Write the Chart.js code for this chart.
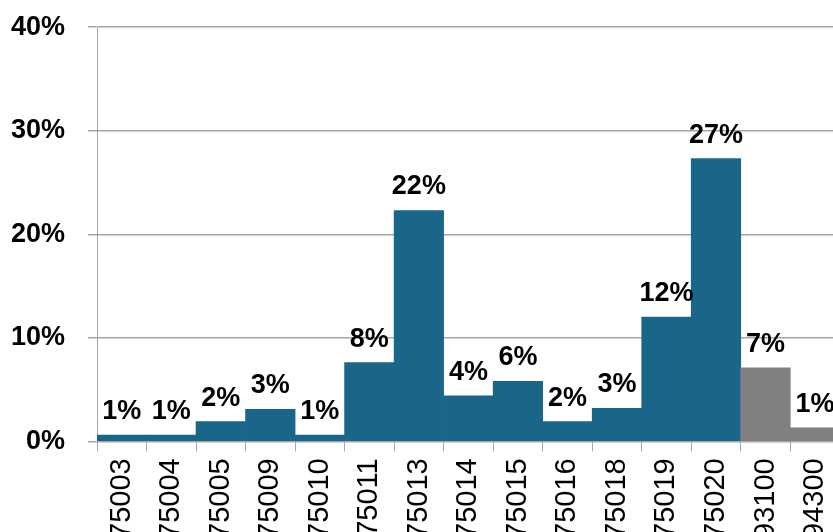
<!DOCTYPE html>
<html>
<head>
<meta charset="utf-8">
<script src="https://cdn.jsdelivr.net/npm/chart.js@4.4.1/dist/chart.umd.min.js"></script>
<style>
    html, body { margin: 0; padding: 0; background: #ffffff; overflow: hidden; }
    #wrap { position: relative; width: 857px; height: 560px; margin-top: -12px; }
</style>
</head>
<body>
<div id="wrap"><canvas id="chart-cp"></canvas></div>
<script>
    // Codici postali e quota (%)
    const categories = ['75003', '75004', '75005', '75009', '75010', '75011', '75013', '75014',
        '75015', '75016', '75018', '75019', '75020', '93100', '94300'];
    const shares = [0.6, 0.6, 1.9, 3.1, 0.6, 7.6, 22.3, 4.4, 5.8, 1.9, 3.2, 12.0, 27.3, 7.1, 1.3];
    const barColors = ['#1a6689', '#1a6689', '#1a6689', '#1a6689', '#1a6689', '#1a6689', '#1a6689',
        '#1a6689', '#1a6689', '#1a6689', '#1a6689', '#1a6689', '#1a6689', '#808080', '#808080'];
    const yTicks = [0, 10, 20, 30, 40];

    const FONT = '"Liberation Sans", Arial, sans-serif';
    const gridGrey = '#a6a6a6';

    const valueLabels = {
        id: 'valueLabels',
        afterDatasetsDraw: function (chart) {
            const ctx = chart.ctx;
            const meta = chart.getDatasetMeta(0);
            ctx.save();
            ctx.font = 'bold 27px ' + FONT;
            ctx.fillStyle = '#000000';
            ctx.textAlign = 'center';
            ctx.textBaseline = 'alphabetic';
            meta.data.forEach(function (bar, i) {
                ctx.fillText(Math.round(shares[i]) + '%', bar.x, bar.y - 16);
            });
            ctx.restore();
        }
    };

    new Chart(document.getElementById('chart-cp').getContext('2d'), {
        type: 'bar',
        data: {
            labels: categories,
            datasets: [{
                data: shares,
                backgroundColor: barColors,
                borderWidth: 0,
                categoryPercentage: 1,
                barPercentage: 1
            }]
        },
        options: {
            responsive: true,
            maintainAspectRatio: false,
            animation: false,
            layout: { padding: { left: 9, right: 5, top: 0, bottom: 2 } },
            plugins: {
                legend: { display: false },
                tooltip: { enabled: false }
            },
            scales: {
                x: {
                    offset: true,
                    grid: { drawOnChartArea: false, drawTicks: true, tickLength: 10, color: gridGrey },
                    border: { color: gridGrey },
                    ticks: {
                        autoSkip: false,
                        maxRotation: 90,
                        minRotation: 90,
                        padding: 7,
                        color: '#000000',
                        font: { family: FONT, size: 29 }
                    }
                },
                y: {
                    min: yTicks[0],
                    max: yTicks[yTicks.length - 1],
                    afterBuildTicks: function (axis) {
                        axis.ticks = yTicks.map(function (v) { return { value: v }; });
                    },
                    afterFit: function (axis) {
                        axis.width = 88;
                    },
                    grid: { color: gridGrey, tickLength: 9, lineWidth: 1.5 },
                    border: { color: gridGrey },
                    ticks: {
                        padding: 23,
                        color: '#000000',
                        font: { family: FONT, size: 27, weight: 'bold' },
                        callback: function (v) { return v + '%'; }
                    }
                }
            }
        },
        plugins: [valueLabels]
    });
</script>
</body>
</html>
